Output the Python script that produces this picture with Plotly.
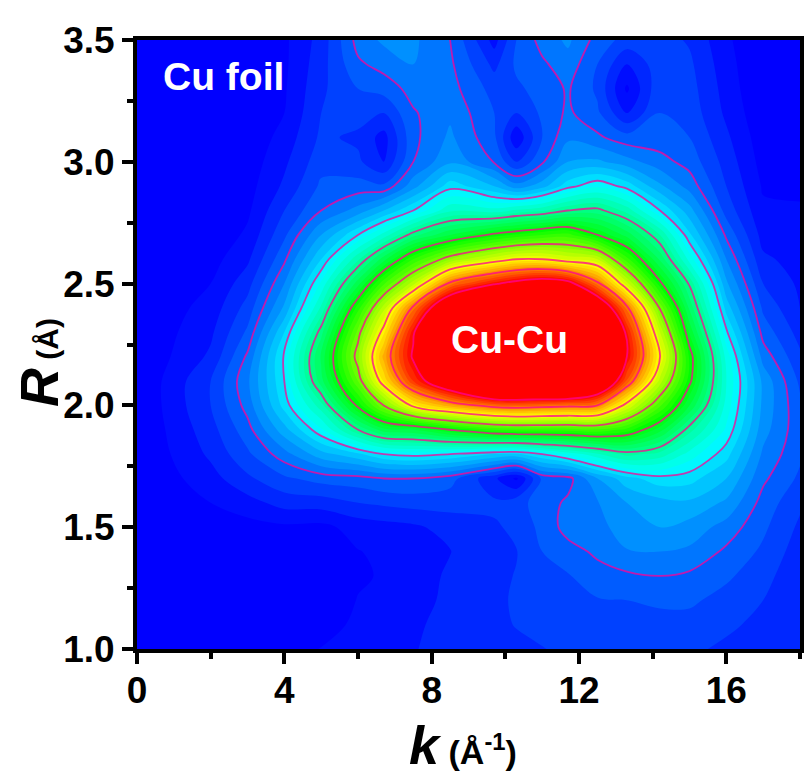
import plotly.graph_objects as go

k_values = [0, 2, 3, 4, 5, 6, 6.7, 7.5, 8.5, 9.7, 10.3, 11, 11.7, 12.5, 13.3, 14.2, 15, 16, 17, 18]
r_values = [1.0, 1.1, 1.2, 1.3, 1.4, 1.5, 1.6, 1.7, 1.8, 1.9, 2.0, 2.1, 2.2, 2.3, 2.4, 2.5, 2.6, 2.7, 2.8, 2.9, 3.0, 3.1, 3.2, 3.3, 3.4, 3.5]

col_k0 = [0] * 26
col_k2 = [0, 0, 0, 0, 0, .01, .025, .04, .055, .065, .075, .075, .055, .045, .035, .025, .015, .005, 0, 0, 0, 0, 0, 0, 0, 0]
col_k3 = [0, 0, 0, 0, 0, .015, .04, .07, .095, .115, .135, .145, .13, .105, .085, .065, .045, .03, .02, .015, .01, .005, 0, 0, 0, 0]
col_k4 = [.012, .008, .004, 0, 0, .02, .06, .095, .14, .19, .235, .25, .255, .225, .18, .15, .12, .095, .075, .055, .045, .035, .025, .022, .02, .02]
col_k5 = [.026, .015, .008, .005, .005, .018, .062, .11, .19, .27, .34, .415, .43, .39, .33, .28, .225, .175, .125, .105, .09, .08, .075, .07, .065, .06]
col_k6 = [.032, .03, .026, .022, .024, .035, .075, .115, .22, .375, .51, .6, .645, .61, .54, .44, .345, .25, .16, .11, .08, .07, .085, .1, .12, .135]
col_k6_7 = [.04, .034, .028, .027, .03, .04, .08, .125, .25, .44, .625, .78, .835, .77, .69, .57, .44, .31, .2, .105, .05, .04, .075, .11, .135, .155]
col_k7_5 = [.048, .045, .04, .035, .027, .045, .085, .125, .26, .45, .765, .95, 1.01, .99, .89, .69, .55, .39, .25, .165, .125, .118, .122, .135, .15, .155]
col_k8_5 = [.062, .06, .056, .055, .049, .06, .085, .11, .25, .5, .84, 1.1, 1.3, 1.3, 1.12, .89, .65, .45, .32, .24, .17, .155, .145, .135, .13, .125]
col_k9_7 = [.066, .07, .07, .07, .07, .072, .08, .055, .225, .55, .9, 1.3, 1.5, 1.55, 1.35, .99, .72, .51, .31, .2, .123, .105, .1, .09, .068, .04]
col_k10_3 = [.07, .076, .078, .076, .074, .08, .09, .02, .22, .56, .91, 1.3, 1.55, 1.6, 1.45, 1.03, .75, .53, .33, .16, .075, .03, .075, .095, .105, .1]
col_k11 = [.074, .082, .088, .095, .1, .108, .112, .105, .25, .56, .9, 1.3, 1.55, 1.6, 1.45, 1.06, .75, .55, .345, .19, .12, .1, .105, .11, .12, .135]
col_k11_7 = [.08, .085, .09, .098, .115, .135, .13, .115, .28, .56, .89, 1.3, 1.55, 1.6, 1.4, 1.03, .72, .56, .375, .24, .175, .145, .13, .128, .14, .155]
col_k12_5 = [.085, .09, .098, .115, .13, .14, .148, .175, .32, .57, .875, 1.15, 1.35, 1.3, 1.1, .89, .7, .5, .385, .27, .18, .13, .105, .095, .1, .115]
col_k13_3 = [.085, .09, .1, .12, .148, .165, .175, .215, .36, .54, .73, .92, 1.0, .98, .89, .71, .56, .44, .34, .24, .16, .11, .05, .02, .05, .09]
col_k14_2 = [.085, .09, .105, .125, .15, .175, .19, .24, .34, .46, .58, .69, .75, .7, .62, .51, .42, .35, .25, .18, .135, .11, .1, .095, .09, .085]
col_k15 = [.08, .09, .105, .12, .145, .165, .195, .235, .29, .36, .45, .51, .52, .47, .42, .37, .29, .23, .185, .14, .115, .1, .09, .085, .08, .072]
col_k16 = [.07, .08, .09, .105, .12, .14, .17, .2, .235, .27, .29, .3, .29, .255, .215, .18, .15, .12, .09, .075, .065, .055, .045, .04, .035, .03]
col_k17 = [.062, .068, .075, .083, .095, .105, .115, .13, .145, .16, .168, .168, .14, .115, .095, .075, .055, .04, .03, .022, .015, .01, .005, 0, 0, 0]
col_k18 = [.05, .052, .055, .058, .062, .07, .08, .095, .105, .108, .105, .095, .08, .065, .05, .045, .04, .035, .028, .02, .012, .006, 0, 0, 0, 0]

columns = [col_k0, col_k2, col_k3, col_k4, col_k5, col_k6, col_k6_7, col_k7_5, col_k8_5, col_k9_7,
           col_k10_3, col_k11, col_k11_7, col_k12_5, col_k13_3, col_k14_2, col_k15, col_k16, col_k17, col_k18]
z_rows = [list(row) for row in zip(*columns)]

rainbow = [[0, "#0000ff"], [0.25, "#00ffff"], [0.5, "#00ff00"], [0.75, "#ffff00"], [1, "#ff0000"]]
FONT = "Liberation Sans"

fig = go.Figure()
fig.add_trace(go.Contour(
    x=k_values, y=r_values, z=z_rows, zauto=False, zmin=0.0125, zmax=1, colorscale=rainbow, showscale=False,
    contours=dict(coloring="fill", start=0.025, end=1, size=0.025, showlines=False),
    line=dict(width=0, smoothing=1.0), hoverinfo="skip",
))
fig.add_trace(go.Contour(
    x=k_values, y=r_values, z=z_rows, showscale=False,
    contours=dict(coloring="none", start=0.125, end=1, size=0.125),
    line=dict(width=1.8, color="rgba(255,0,150,0.75)", smoothing=1.0), hoverinfo="skip",
))

axis_common = dict(
    showgrid=False, zeroline=False, showline=True, linecolor="black", linewidth=4, mirror=True,
    ticks="outside", ticklen=11, tickwidth=4, tickcolor="black",
    tickfont=dict(family=FONT, size=37, color="black", weight="bold"),
)
fig.update_layout(
    width=809, height=784, autosize=False, paper_bgcolor="white", plot_bgcolor="#0000ff",
    margin=dict(l=137, r=5, t=40, b=135), showlegend=False,
    xaxis=dict(range=[0, 18], tick0=0, dtick=4, ticklabelstandoff=-5,
               minor=dict(dtick=2, ticks="outside", ticklen=6, tickwidth=4, tickcolor="black"),
               **axis_common),
    yaxis=dict(range=[1, 3.5], tick0=1, dtick=0.5, tickformat=".1f",
               minor=dict(dtick=0.25, ticks="outside", ticklen=6, tickwidth=4, tickcolor="black"),
               **axis_common),
    annotations=[
        dict(x=2.35, y=3.35, xref="x", yref="y", text="<b>Cu foil</b>", showarrow=False,
             font=dict(family=FONT, size=39, color="white")),
        dict(x=10.1, y=2.27, xref="x", yref="y", text="<b>Cu-Cu</b>", showarrow=False,
             font=dict(family=FONT, size=39, color="white")),
        dict(x=0.492, y=-0.158, xref="paper", yref="paper", xanchor="center", yanchor="middle", showarrow=False,
             text='<b><i>k</i></b><span style="font-size:34px"><b> (Å<sup>-1</sup>)</b></span>',
             font=dict(family=FONT, size=54, color="black")),
        dict(x=-0.148, y=0.471, xref="paper", yref="paper", xanchor="center", yanchor="middle", showarrow=False, textangle=-90,
             text='<b><i>R</i></b><span style="font-size:30px"><b> (Å)</b></span>',
             font=dict(family=FONT, size=54, color="black")),
    ],
)
fig.write_html("out.html", config={"displayModeBar": False},
               post_script="document.body.style.margin='0';document.body.style.overflow='hidden';")
